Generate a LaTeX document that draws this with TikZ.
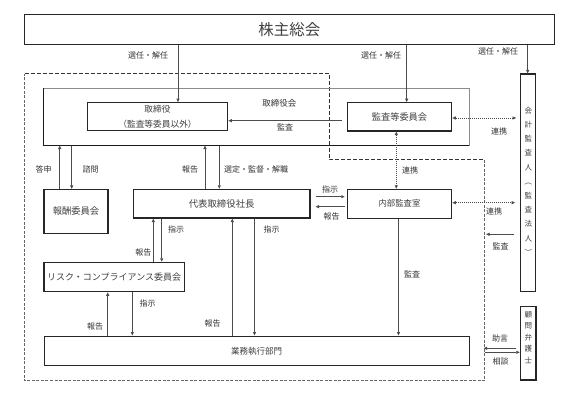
\documentclass[tikz,border=0pt]{standalone}
\usepackage{fontspec}
\setmainfont{Noto Sans CJK JP}
\usetikzlibrary{arrows.meta}
\begin{document}
\begin{tikzpicture}[x=1pt,y=-1pt,
  lbl/.style={font=\fontsize{8}{9}\selectfont, text=black!80, inner sep=0pt},
  bx/.style={draw=black!85, line width=1.1pt, inner sep=0pt, text=black!75, font=\fontsize{9}{11}\selectfont},
  con/.style={draw=black!70, line width=0.8pt},
  tip/.tip={Triangle[length=3.5pt,width=3pt]},
  arr/.style={con, -tip},
  darr/.style={con, dash pattern=on 1pt off 1pt, tip-tip},
  bolddash/.style={draw=black!80, line width=1pt, dash pattern=on 4pt off 2pt},
  thindash/.style={draw=black!60, line width=0.6pt, dash pattern=on 3pt off 1.5pt}
]
\useasboundingbox (0,0) rectangle (573,396);
\fill[white] (0,0) rectangle (573,396);

% dashed boundary
\draw[thindash] (484.5,159.5) -- (484.5,380.5) -- (24.5,380.5) -- (24.5,74);
\draw[bolddash] (24.5,74) -- (329,74) -- (329,159.5) -- (484.5,159.5);

% boxes
\node[bx, line width=1.2pt, minimum width=529.9pt, minimum height=29.6pt, font=\fontsize{15.5}{17}\selectfont] (top) at (289.25,29.5) {株主総会};
\node[draw=black!45, line width=0.8pt, outer sep=0pt, inner sep=0pt, minimum width=425.6pt, minimum height=57.2pt] (board) at (256.5,116.9) {};
\draw[black!90, line width=1.1pt] (board.north west) -- (board.south west) -- (board.south east);
\node[lbl, font=\fontsize{8.5}{10}\selectfont] (boardlbl) at (279.3,103.3) {取締役会};
\node[bx, minimum width=140.4pt, minimum height=28pt, align=center, font=\fontsize{8.7}{15.7}\selectfont] (dir) at (157.5,116.7) {取締役\\（監査等委員以外）};
\node[bx, minimum width=104.4pt, minimum height=28.3pt, font=\fontsize{9.2}{11}\selectfont] (ac) at (399.5,116.85) {監査等委員会};
\node[bx, minimum width=64pt, minimum height=43.8pt, font=\fontsize{9.3}{11}\selectfont] (comp) at (76,211.4) {報酬委員会};
\node[bx, minimum width=176.7pt, minimum height=28.7pt, font=\fontsize{9.4}{11}\selectfont] (ceo) at (221.65,203.65) {代表取締役社長};
\node[bx, minimum width=104.4pt, minimum height=29pt, font=\fontsize{8.4}{10}\selectfont] (internal) at (399.5,203.8) {内部監査室};
\node[bx, minimum width=140.3pt, minimum height=29.4pt] (risk) at (114.15,277) {リスク・コンプライアンス委員会};
\node[bx, line width=1pt, minimum width=425.3pt, minimum height=29.7pt, font=\fontsize{8.5}{10}\selectfont] (ops) at (256.65,350.85) {業務執行部門};
\node[bx, minimum width=15.2pt, minimum height=217.7pt] (auditor) at (528.3,182.85) {};
\node[font=\fontsize{7.5}{14.2}\selectfont, align=center, text=black!75, inner sep=0pt] (audtxt) at (528.3,181.2) {会\\計\\監\\査\\人\\︵\\監\\査\\法\\人\\︶};
\node[bx, minimum width=15.7pt, minimum height=73.3pt] (lawyer) at (528.15,343.35) {};
\node[font=\fontsize{7.5}{11.6}\selectfont, align=center, text=black!75, inner sep=0pt] (lawtxt) at (528.3,337.5) {顧\\問\\弁\\護\\士};

% coordinates
\coordinate (c1) at (178,0);
\coordinate (c2) at (406.7,0);
\coordinate (c3) at (527.7,0);
\coordinate (c4) at (59.7,0);
\coordinate (c5) at (71.7,0);
\coordinate (c6) at (205,0);
\coordinate (c7) at (219.3,0);
\coordinate (c8) at (396.3,0);
\coordinate (c9) at (153.3,0);
\coordinate (c10) at (161.7,0);
\coordinate (c11) at (232.3,0);
\coordinate (c12) at (254.5,0);
\coordinate (c13) at (398.5,0);
\coordinate (c14) at (107.7,0);
\coordinate (c15) at (132.3,0);
\coordinate (r1) at (0,120.7);
\coordinate (r2) at (0,118);
\coordinate (r3) at (0,196.7);
\coordinate (r4) at (0,206.7);
\coordinate (r5) at (0,202.7);
\coordinate (r6) at (0,234.3);
\coordinate (r7) at (0,348.3);
\coordinate (r8) at (0,352.3);
\coordinate (dash) at (484.5,0);

% from shareholders
\draw[arr] (top.south -| c1) -- (dir.north -| c1);
\draw[arr] (top.south -| c2) -- (ac.north -| c2);
\draw[arr] (top.south -| c3) -- (auditor.north -| c3);
\node[lbl] (l1) at (148,55.7) {選任・解任};
\node[lbl] (l2) at (381,55) {選任・解任};
\node[lbl] (l3) at (498,51.7) {選任・解任};

% audit committee
\draw[arr, shorten <=5pt] (ac.west |- r1) -- (dir.east |- r1);
\node[lbl] (l4) at (285,127.3) {監査};
\draw[darr, shorten >=4pt] (ac.east |- r2) -- (auditor.west |- r2);
\node[lbl] (l5) at (499,131) {連携};
\draw[darr] (ac.south -| c8) -- (internal.north -| c8);
\node[lbl] (l6) at (410,170.7) {連携};

% board - compensation
\draw[arr] (comp.north -| c4) -- (board.south -| c4);
\draw[arr] (board.south -| c5) -- (comp.north -| c5);
\node[lbl] (l7) at (43.5,169.3) {答申};
\node[lbl] (l8) at (90.7,169.3) {諮問};

% board - ceo
\draw[arr] (ceo.north -| c6) -- (board.south -| c6);
\draw[arr] (board.south -| c7) -- (ceo.north -| c7);
\node[lbl] (l9) at (190,169.3) {報告};
\node[lbl] (l10) at (256,169.3) {選定・監督・解職};

% ceo - internal
\draw[arr, shorten <=5pt, shorten >=2pt] (ceo.east |- r3) -- (internal.west |- r3);
\draw[arr, shorten <=2pt, shorten >=5pt] (internal.west |- r4) -- (ceo.east |- r4);
\node[lbl] (l11) at (330,189) {指示};
\node[lbl] (l12) at (331.7,216.7) {報告};

% internal - auditor
\draw[darr, shorten >=5pt] (internal.east |- r5) -- (auditor.west |- r5);
\node[lbl] (l13) at (494,211.7) {連携};
\draw[arr, shorten <=6pt, shorten >=1.5pt] (auditor.west |- r6) -- (dash |- r6);
\node[lbl] (l14) at (500.7,246.7) {監査};

% ceo - risk
\draw[arr] (risk.north -| c9) -- (ceo.south -| c9);
\draw[arr] (ceo.south -| c10) -- (risk.north -| c10);
\node[lbl] (l15) at (176,229.3) {指示};
\node[lbl] (l16) at (143.3,252.7) {報告};

% ceo - ops
\draw[arr] (ops.north -| c11) -- (ceo.south -| c11);
\draw[arr] (ceo.south -| c12) -- (ops.north -| c12);
\node[lbl] (l17) at (212.7,323.3) {報告};
\node[lbl] (l18) at (271.7,229.3) {指示};

% internal - ops
\draw[arr] (internal.south -| c13) -- (ops.north -| c13);
\node[lbl] (l19) at (412,274) {監査};

% risk - ops
\draw[arr] (ops.north -| c14) -- (risk.south -| c14);
\draw[arr] (risk.south -| c15) -- (ops.north -| c15);
\node[lbl] (l20) at (147.7,303.3) {指示};
\node[lbl] (l21) at (95,326.7) {報告};

% lawyer
\draw[arr, shorten <=3.5pt, shorten >=-1pt] (lawyer.west |- r7) -- (dash |- r7);
\draw[arr] (dash |- r8) -- (lawyer.west |- r8);
\node[lbl] (l22) at (500,338.3) {助言};
\node[lbl] (l23) at (500.7,361.7) {相談};
\end{tikzpicture}
\end{document}
